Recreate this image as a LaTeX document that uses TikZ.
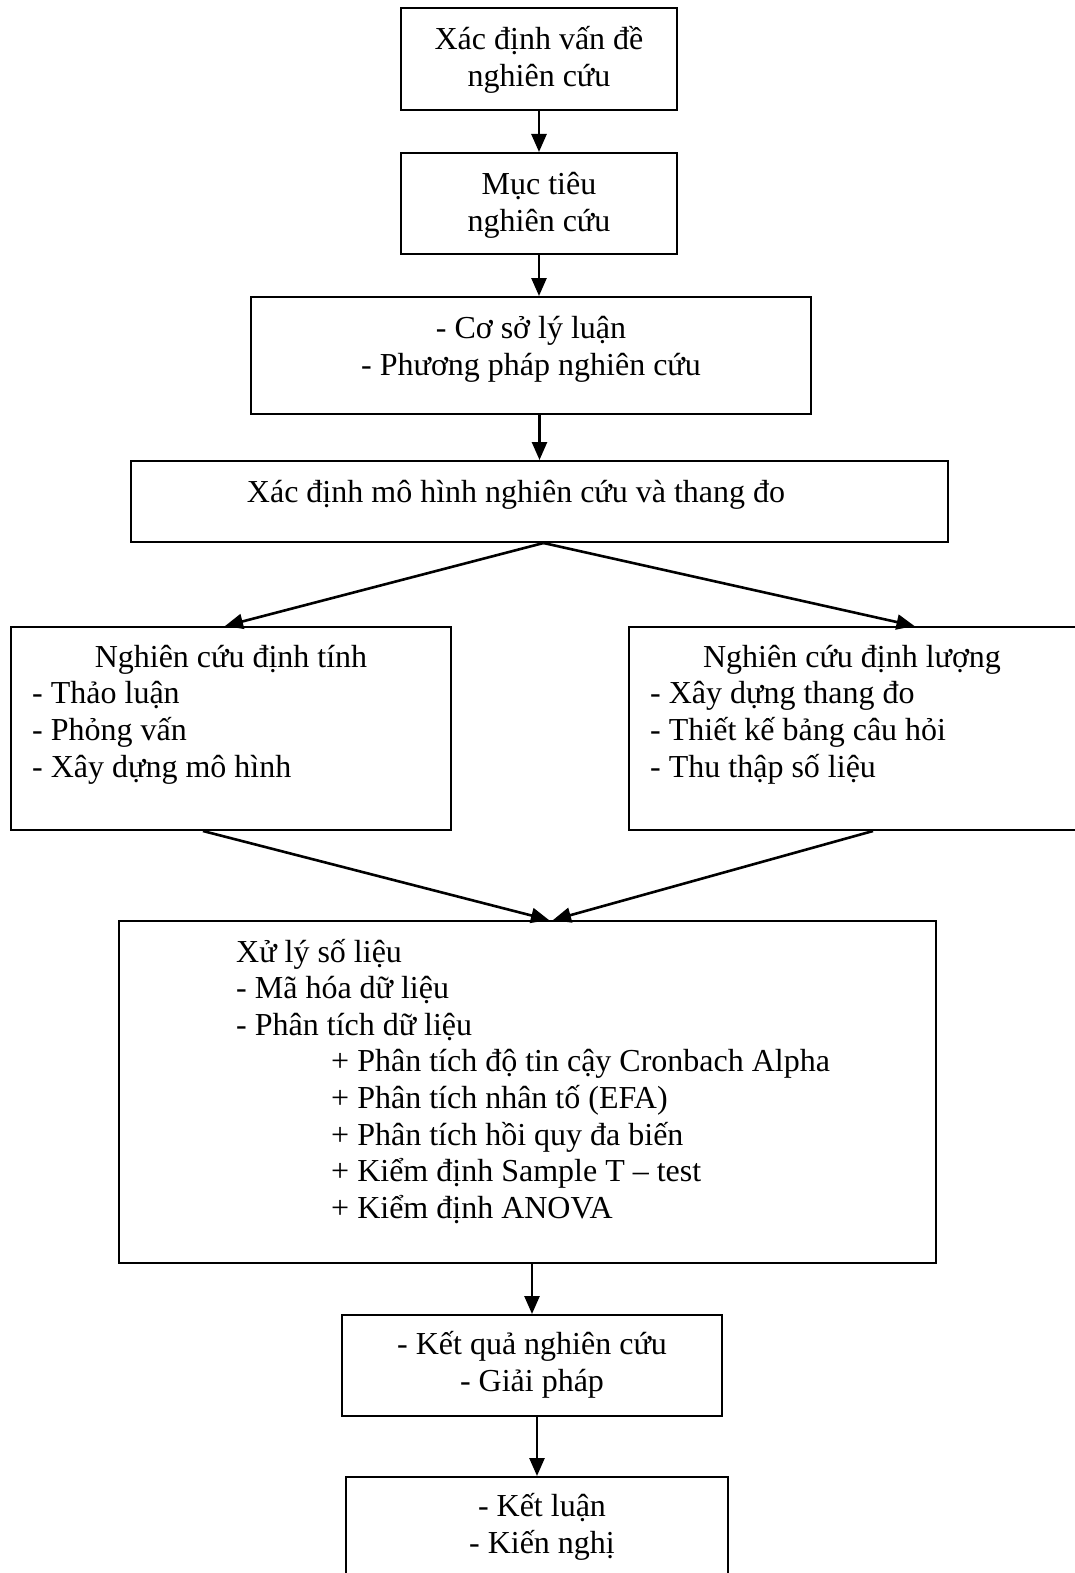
\documentclass[tikz,border=0pt]{standalone}
\usepackage{fontspec}
\setmainfont{Liberation Serif}
\usetikzlibrary{arrows.meta,calc}
\begin{document}
\begin{tikzpicture}[x=1pt,y=-1pt,
  box/.style={draw, line width=2pt, rectangle, inner sep=0pt},
  flow/.style={line width=2.6pt, -{Triangle[length=18pt,width=15pt]}},
  txt/.style={inner sep=0pt, font=\fontsize{32}{37}\selectfont},
  ctxt/.style={txt, anchor=base},
  ltxt/.style={txt, anchor=base west},
]
\useasboundingbox (0,0) rectangle (1075,1573);

% boxes
\node[box, minimum width=276pt, minimum height=102pt] (b1) at (539,59) {};
\node[box, minimum width=276pt, minimum height=101pt] (b2) at (539,203.5) {};
\node[box, minimum width=560pt, minimum height=117pt] (b3) at (531,355.5) {};
\node[box, minimum width=817pt, minimum height=81pt] (b4) at (539.5,501.5) {};
\node[box, minimum width=440pt, minimum height=203pt] (lb) at (231,728.5) {};
\node[box, minimum width=571pt, minimum height=203pt] (rb) at (914.5,728.5) {};
\node[box, minimum width=817pt, minimum height=342pt] (xl) at (527.5,1092) {};
\node[box, minimum width=380pt, minimum height=101pt] (kq) at (532,1365.5) {};
\node[box, minimum width=382pt, minimum height=173pt] (kl) at (537,1563.5) {};

% texts
\node[ctxt] (t1a) at (539,50) {Xác định vấn đề};
\node[ctxt] (t1b) at (539,87) {nghiên cứu};
\node[ctxt] (t2a) at (539,194) {Mục tiêu};
\node[ctxt] (t2b) at (539,231) {nghiên cứu};
\node[ctxt] (t3a) at (531,338) {- Cơ sở lý luận};
\node[ctxt] (t3b) at (531,375) {- Phương pháp nghiên cứu};
\node[ctxt] (t4a) at (516,502) {Xác định mô hình nghiên cứu và thang đo};

\node[ctxt] (lta) at (231,667) {Nghiên cứu định tính};
\node[ltxt] (ltb) at (32,703) {- Thảo luận};
\node[ltxt] (ltc) at (32,740) {- Phỏng vấn};
\node[ltxt] (ltd) at (32,777) {- Xây dựng mô hình};

\node[ctxt] (rta) at (852,667) {Nghiên cứu định lượng};
\node[ltxt] (rtb) at (650,703) {- Xây dựng thang đo};
\node[ltxt] (rtc) at (650,740) {- Thiết kế bảng câu hỏi};
\node[ltxt] (rtd) at (650,777) {- Thu thập số liệu};

\node[ltxt] (xa) at (236,962) {Xử lý số liệu};
\node[ltxt] (xb) at (236,998) {- Mã hóa dữ liệu};
\node[ltxt] (xc) at (236,1035) {- Phân tích dữ liệu};
\node[ltxt] (xd) at (331,1071) {+ Phân tích độ tin cậy Cronbach Alpha};
\node[ltxt] (xe) at (331,1108) {+ Phân tích nhân tố (EFA)};
\node[ltxt] (xf) at (331,1145) {+ Phân tích hồi quy đa biến};
\node[ltxt] (xg) at (331,1181) {+ Kiểm định Sample T – test};
\node[ltxt] (xh) at (331,1218) {+ Kiểm định ANOVA};

\node[ctxt] (kqa) at (532,1354) {- Kết quả nghiên cứu};
\node[ctxt] (kqb) at (532,1391) {- Giải pháp};
\node[ctxt] (kla) at (542,1516) {- Kết luận};
\node[ctxt] (klb) at (542,1553) {- Kiến nghị};

% connectors
\draw[flow] (b1.south) -- (b2.north);
\draw[flow] (b2.south) -- (b2.south |- b3.north);
\draw[flow] (b4.north |- b3.south) -- (b4.north);
\draw[flow] ([xshift=4pt]b4.south) -- ([xshift=-6pt]lb.north);
\draw[flow] ([xshift=4pt]b4.south) -- (rb.north);
\draw[flow] ([xshift=-28pt]lb.south) -- ([xshift=21.5pt]xl.north);
\draw[flow] ([xshift=-41.5pt]rb.south) -- ([xshift=25.5pt]xl.north);
\draw[flow] (kq.north |- xl.south) -- (kq.north);
\draw[flow] (kl.north |- kq.south) -- (kl.north);
\end{tikzpicture}
\end{document}
